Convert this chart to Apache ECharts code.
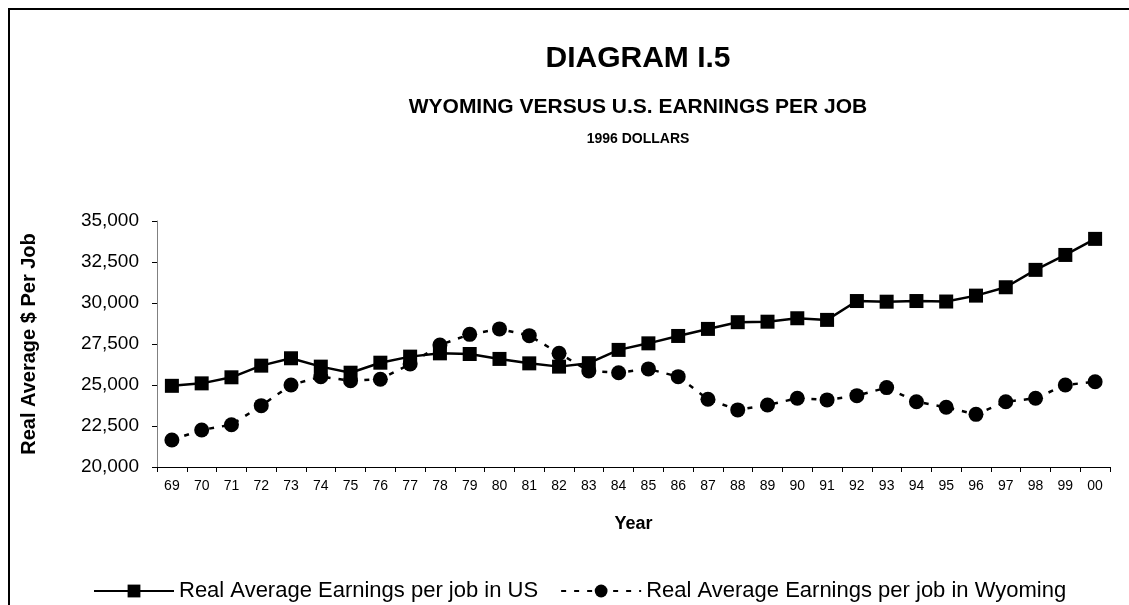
<!DOCTYPE html>
<html>
<head>
<meta charset="utf-8">
<script src="https://cdn.jsdelivr.net/npm/echarts@6/dist/echarts.min.js"></script>
<style>
  html, body { margin: 0; padding: 0; background: #fff; }
  #wrap { position: relative; width: 1129px; height: 605px; }
  #frame { position: absolute; left: 8px; top: 8px; right: 0; bottom: 0; border-top: 2px solid #000; border-left: 2px solid #000; }
  #chart { position: absolute; left: 0; top: 0; width: 1129px; height: 605px; }
</style>
</head>
<body>
<div id="wrap">
  <div id="frame"></div>
  <div id="chart"></div>
</div>
<script>
// 年份（两位数）
var years = ['69', '70', '71', '72', '73', '74', '75', '76', '77', '78', '79', '80', '81', '82', '83', '84',
  '85', '86', '87', '88', '89', '90', '91', '92', '93', '94', '95', '96', '97', '98', '99', '00']

// 美国实际平均每职位收入
var usEarnings = [24950, 25100, 25470, 26180, 26630, 26120, 25750, 26360, 26730, 26930, 26890, 26590, 26320, 26120, 26330, 27140,
  27540, 27990, 28420, 28830, 28860, 29070, 28970, 30120, 30080, 30120, 30090, 30450, 30960, 32020, 32930, 33910]

// 怀俄明实际平均每职位收入
var wyEarnings = [21650, 22260, 22580, 23740, 25000, 25510, 25260, 25350, 26280, 27440, 28090, 28420, 28010, 26930, 25860, 25750,
  25980, 25510, 24130, 23480, 23780, 24190, 24090, 24350, 24840, 23980, 23640, 23210, 23980, 24190, 25000, 25200]

var font = 'Arial, "Liberation Sans", sans-serif'

var myChart = echarts.init(document.getElementById('chart'))
var option = {
  backgroundColor: 'transparent',
  animation: false,
  title: [
    {
      text: 'DIAGRAM I.5',
      left: 633,
      top: 39,
      textAlign: 'center',
      textStyle: { fontFamily: font, fontSize: 30, fontWeight: 'bold', color: '#000' }
    },
    {
      text: 'WYOMING VERSUS U.S. EARNINGS PER JOB',
      left: 633,
      top: 92,
      textAlign: 'center',
      textStyle: { fontFamily: font, fontSize: 21, fontWeight: 'bold', color: '#000' }
    },
    {
      text: '1996 DOLLARS',
      left: 633,
      top: 127,
      textAlign: 'center',
      textStyle: { fontFamily: font, fontSize: 14, fontWeight: 'bold', color: '#000' }
    }
  ],
  legend: {
    left: 88,
    top: 575,
    itemWidth: 80,
    itemHeight: 16,
    itemGap: 22,
    textStyle: { fontFamily: font, fontSize: 22, color: '#000' },
    data: ['Real Average Earnings per job in US', 'Real Average Earnings per job in Wyoming']
  },
  grid: {
    left: 157,
    right: 19,
    top: 221,
    bottom: 138
  },
  xAxis: {
    type: 'category',
    data: years,
    name: 'Year',
    nameLocation: 'middle',
    nameGap: 48,
    nameTextStyle: { fontFamily: font, fontSize: 18, fontWeight: 'bold', color: '#000' },
    axisLine: { lineStyle: { color: '#000', width: 1 } },
    axisTick: { show: true, length: 5, lineStyle: { color: '#000' } },
    axisLabel: { fontFamily: font, fontSize: 14, color: '#000', margin: 12 }
  },
  yAxis: {
    type: 'value',
    min: 20000,
    max: 35000,
    interval: 2500,
    name: 'Real Average $ Per Job',
    nameLocation: 'middle',
    nameRotate: 90,
    nameGap: 118,
    nameTextStyle: { fontFamily: font, fontSize: 20, fontWeight: 'bold', color: '#000' },
    splitLine: { show: false },
    axisLine: { show: true, lineStyle: { color: '#808080', width: 1 } },
    axisTick: { show: true, length: 5, lineStyle: { color: '#000' } },
    axisLabel: {
      fontFamily: font,
      fontSize: 19,
      color: '#000',
      margin: 18,
      formatter: function (v) {
        return String(v).replace(/\B(?=(\d{3})+(?!\d))/g, ',')
      }
    }
  },
  series: [
    {
      name: 'Real Average Earnings per job in US',
      type: 'line',
      data: usEarnings,
      symbol: 'rect',
      symbolSize: 14,
      itemStyle: { color: '#000' },
      lineStyle: { color: '#000', width: 2.5, type: 'solid' }
    },
    {
      name: 'Real Average Earnings per job in Wyoming',
      type: 'line',
      data: wyEarnings,
      symbol: 'circle',
      symbolSize: 15,
      itemStyle: { color: '#000' },
      lineStyle: { color: '#000', width: 2.5, type: [5, 8] }
    }
  ]
}
myChart.setOption(option)
window.addEventListener('resize', () => {
  myChart.resize()
})
</script>
</body>
</html>
